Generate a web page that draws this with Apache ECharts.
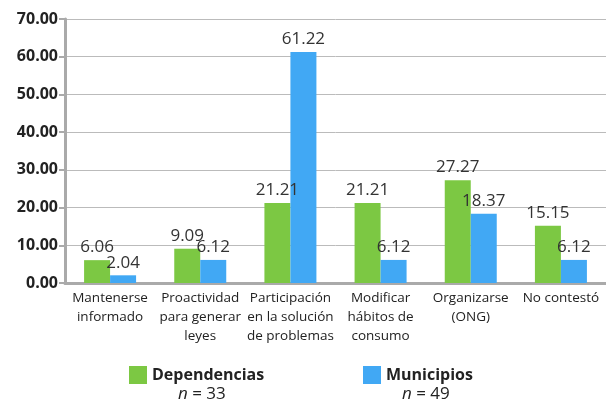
<!DOCTYPE html>
<html>
<head>
<meta charset="utf-8">
<script src="https://cdn.jsdelivr.net/npm/echarts@6/dist/echarts.min.js"></script>
<style>
  html, body { margin: 0; padding: 0; background: #fff; }
  #chart { width: 606px; height: 401px; }
</style>
</head>
<body>
<div id="chart"></div>
<script>
const categories = [
  "Mantenerse\ninformado",
  "Proactividad\npara generar\nleyes",
  "Participación\nen la solución\nde problemas",
  "Modificar\nhábitos de\nconsumo",
  "Organizarse\n(ONG)",
  "No contestó",
];
const dependencias = [6.06, 9.09, 21.21, 21.21, 27.27, 15.15];
const municipios = [2.04, 6.12, 61.22, 6.12, 18.37, 6.12];
const seriesNames = ["Dependencias", "Municipios"];
const sampleSizes = ["33", "49"];

const FONT = "Open Sans";
const GREEN = "#7cc843";
const BLUE = "#41a8f4";

const chart = echarts.init(document.getElementById("chart"), null, { renderer: "canvas" });

const labelStyle = {
  show: true,
  position: "top",
  distance: 4,
  color: "#333",
  fontFamily: FONT,
  fontSize: 17,
  formatter: (p) => p.value.toFixed(2),
};

const nText = (left, n) => ({
  type: "text", left: left, top: 386,
  style: {
    text: "{i|n} = " + n,
    font: "17px " + FONT, fill: "#222",
    rich: { i: { fontStyle: "italic", fontSize: 17, fontFamily: FONT, fill: "#222" } },
  },
});

chart.setOption({
  backgroundColor: "#fff",
  animation: false,
  textStyle: { fontFamily: FONT },
  grid: { left: 65, right: -3, top: 19, bottom: 118, containLabel: false },
  legend: [
    {
      data: [seriesNames[0]],
      left: 124, top: 361,
      itemWidth: 18, itemHeight: 18, itemGap: 10,
      icon: "rect",
      textStyle: { fontFamily: FONT, fontSize: 16, fontWeight: "bold", color: "#222" },
    },
    {
      data: [seriesNames[1]],
      left: 358, top: 361,
      itemWidth: 18, itemHeight: 18,
      icon: "rect",
      textStyle: { fontFamily: FONT, fontSize: 16, fontWeight: "bold", color: "#222" },
    },
  ],
  graphic: [nText(178, sampleSizes[0]), nText(402, sampleSizes[1])],
  xAxis: {
    type: "category",
    data: categories,
    axisLine: { lineStyle: { color: "#aaa", width: 3 } },
    axisTick: { show: false },
    axisLabel: {
      interval: 0,
      color: "#222",
      fontFamily: FONT,
      fontSize: 13.5,
      lineHeight: 19,
      margin: 6,
    },
  },
  yAxis: {
    type: "value",
    min: 0, max: 70, interval: 10,
    axisLine: { show: true, lineStyle: { color: "#aaa", width: 3 } },
    axisTick: { show: true, length: 6, lineStyle: { color: "#aaa", width: 2 } },
    splitLine: { lineStyle: { color: "#bbb", width: 1 } },
    axisLabel: {
      color: "#222",
      fontFamily: FONT,
      fontSize: 16,
      fontWeight: "bold",
      margin: 7,
      formatter: (v) => v.toFixed(2),
    },
  },
  series: [
    {
      name: seriesNames[0],
      type: "bar",
      data: dependencias,
      barWidth: 26,
      barGap: "0%",
      itemStyle: { color: GREEN },
      label: labelStyle,
    },
    {
      name: seriesNames[1],
      type: "bar",
      data: municipios,
      barWidth: 26,
      itemStyle: { color: BLUE },
      label: labelStyle,
    },
  ],
});
</script>
</body>
</html>
